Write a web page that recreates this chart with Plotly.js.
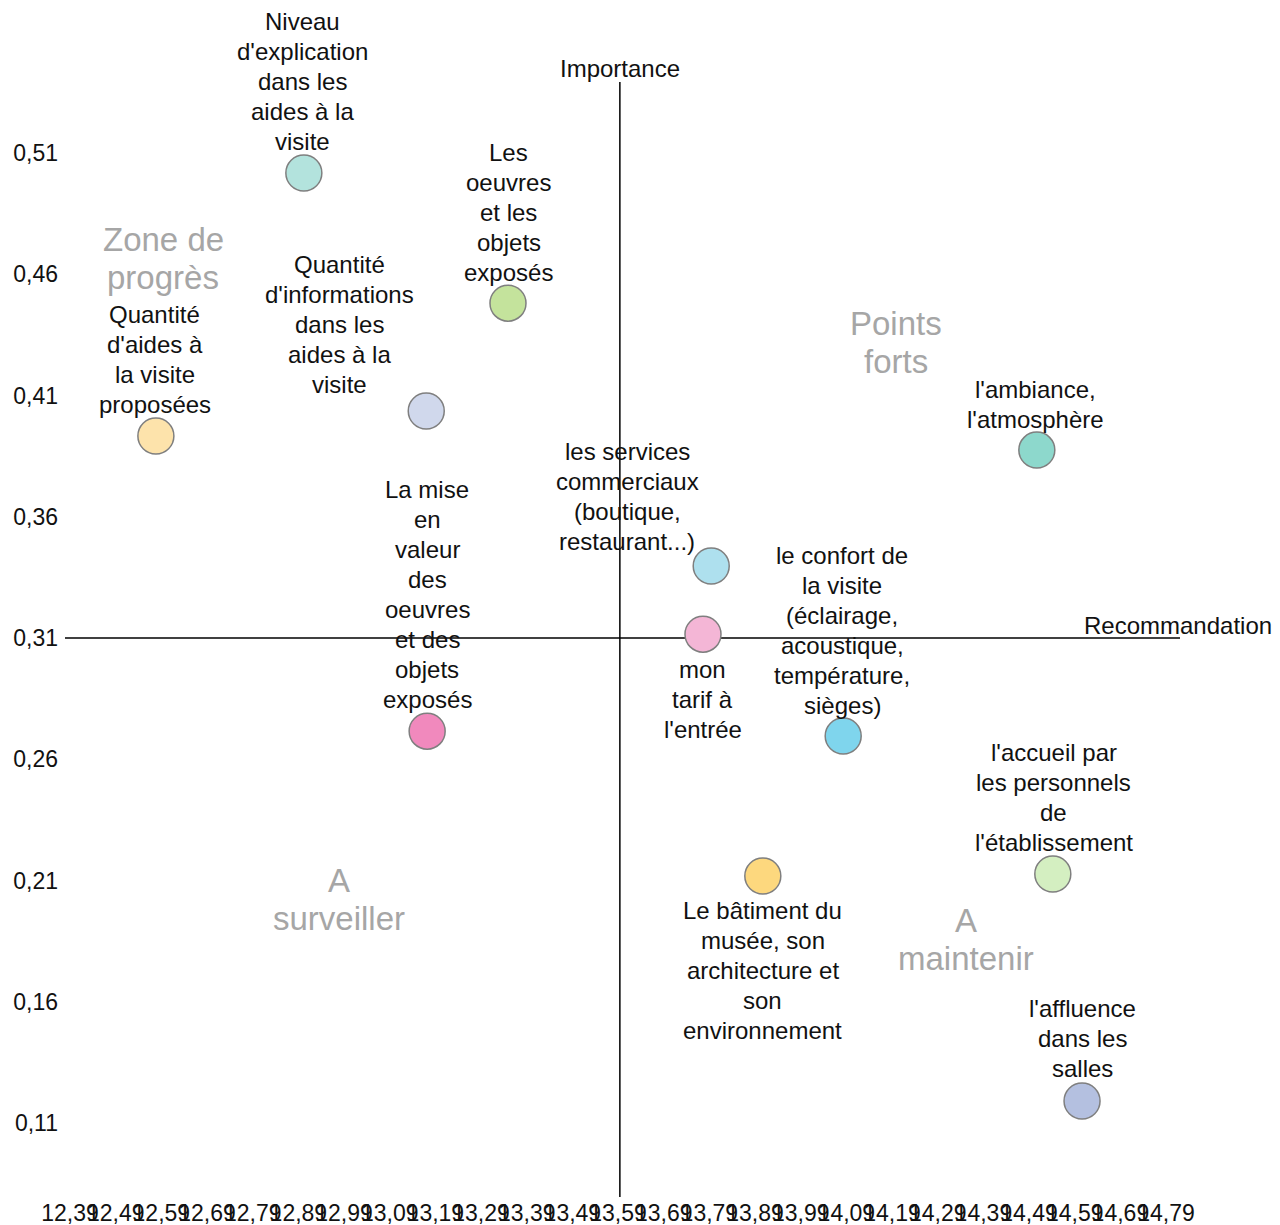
<!DOCTYPE html>
<html>
<head>
<meta charset="utf-8">
<script src="https://cdn.plot.ly/plotly-3.0.1.min.js"></script>
<style>
  html, body { margin: 0; padding: 0; background: #fff; }
  #chart { width: 1280px; height: 1225px; }
</style>
</head>
<body>
<div id="chart"></div>
<script>
// ---- DATA ----
const categories = [
  "Niveau<br>d'explication<br>dans les<br>aides à la<br>visite",
  "Les<br>oeuvres<br>et les<br>objets<br>exposés",
  "Quantité<br>d'informations<br>dans les<br>aides à la<br>visite",
  "Quantité<br>d'aides à<br>la visite<br>proposées",
  "les services<br>commerciaux<br>(boutique,<br>restaurant...)",
  "mon<br>tarif à<br>l'entrée",
  "La mise<br>en<br>valeur<br>des<br>oeuvres<br>et des<br>objets<br>exposés",
  "le confort de<br>la visite<br>(éclairage,<br>acoustique,<br>température,<br>sièges)",
  "l'ambiance,<br>l'atmosphère",
  "l'accueil par<br>les personnels<br>de<br>l'établissement",
  "Le bâtiment du<br>musée, son<br>architecture et<br>son<br>environnement",
  "l'affluence<br>dans les<br>salles"
];
const recommandation = [12.902, 13.349, 13.170, 12.578, 13.794, 13.776, 13.172, 14.083, 14.507, 14.542, 13.907, 14.606];
const importance     = [0.5018, 0.4481, 0.4036, 0.3933, 0.3397, 0.3116, 0.2716, 0.2696, 0.3875, 0.2127, 0.2119, 0.1191];

const crossX = 13.594;  // moyenne recommandation
const crossY = 0.31;    // moyenne importance

const xTickValues = [12.39, 12.49, 12.59, 12.69, 12.79, 12.89, 12.99, 13.09, 13.19, 13.29, 13.39, 13.49, 13.59,
                     13.69, 13.79, 13.89, 13.99, 14.09, 14.19, 14.29, 14.39, 14.49, 14.59, 14.69, 14.79];
const xTickLabels = ["12,39", "12,49", "12,59", "12,69", "12,79", "12,89", "12,99", "13,09", "13,19", "13,29", "13,39", "13,49", "13,59",
                     "13,69", "13,79", "13,89", "13,99", "14,09", "14,19", "14,29", "14,39", "14,49", "14,59", "14,69", "14,79"];
const yTickValues = [0.11, 0.16, 0.21, 0.26, 0.31, 0.36, 0.41, 0.46, 0.51];
const yTickLabels = ["0,11", "0,16", "0,21", "0,26", "0,31", "0,36", "0,41", "0,46", "0,51"];

const quadrantNames = ["Zone de<br>progrès", "Points<br>forts", "A<br>surveiller", "A<br>maintenir"];
const xAxisName = "Recommandation";
const yAxisName = "Importance";

// ---- STYLE ----
const bubbleColors = ["#b3e3dd", "#c4e39c", "#d0d8ec", "#fde3ab", "#aee0ee", "#f4b6d6",
                      "#f189bd", "#7fd5ed", "#8dd8cc", "#d4efc1", "#fdd87e", "#b4c0e0"];
// label placement: mode (above/below), horizontal shift px, base vertical gap px
const labelPlacement = [
  {mode: "above", dx: -1, gap: 31},
  {mode: "above", dx: 1, gap: 31},
  {mode: "above", dx: -87, gap: 27},
  {mode: "above", dx: -1, gap: 32},
  {mode: "above", dx: -84, gap: 25},
  {mode: "below", dx: 0, gap: 35},
  {mode: "above", dx: 0, gap: 32},
  {mode: "above", dx: -1, gap: 31},
  {mode: "above", dx: -1, gap: 31},
  {mode: "above", dx: 1, gap: 31},
  {mode: "below", dx: 0, gap: 35},
  {mode: "above", dx: 0, gap: 32}
];
const quadrantPlacement = [
  {x: 0.0879, y: 0.8583},
  {x: 0.7453, y: 0.7830},
  {x: 0.2457, y: 0.2843},
  {x: 0.8081, y: 0.2484}
];
const FONT = "'Liberation Sans', Arial, sans-serif";
const LINE_H = 30;
const LABEL_SIZE = 24;

const annotations = [];
categories.forEach((txt, i) => {
  const lines = txt.split("<br>");
  const n = lines.length;
  const p = labelPlacement[i];
  lines.forEach((ln, j) => {
    const ys = p.mode === "above" ? (p.gap + (n - 1 - j) * LINE_H) : -(p.gap + j * LINE_H);
    annotations.push({
      x: recommandation[i], y: importance[i], xref: "x", yref: "y",
      text: ln, showarrow: false, xanchor: "center", yanchor: "middle",
      xshift: p.dx, yshift: ys,
      font: {family: FONT, size: LABEL_SIZE, color: "#111"}
    });
  });
});
quadrantNames.forEach((txt, i) => {
  const lines = txt.split("<br>");
  lines.forEach((ln, j) => {
    annotations.push({
      x: quadrantPlacement[i].x, y: quadrantPlacement[i].y, xref: "paper", yref: "paper",
      text: ln, showarrow: false, xanchor: "center", yanchor: "middle",
      yshift: -38 * j,
      font: {family: FONT, size: 33, color: "#a6a6a6"}
    });
  });
});
annotations.push({
  x: crossX, y: 1, xref: "x", yref: "paper", text: yAxisName, showarrow: false,
  xanchor: "center", yanchor: "middle", yshift: 14,
  font: {family: FONT, size: LABEL_SIZE, color: "#111"}
});
annotations.push({
  x: 0.912, y: crossY, xref: "paper", yref: "y", text: xAxisName, showarrow: false,
  xanchor: "left", yanchor: "middle", yshift: 13,
  font: {family: FONT, size: LABEL_SIZE, color: "#111"}
});

const trace = {
  type: "scatter", mode: "markers",
  x: recommandation, y: importance,
  text: categories.map(c => c.replace(/<br>/g, " ")),
  hoverinfo: "text",
  marker: {size: 36, color: bubbleColors, line: {color: "#7f7f7f", width: 1.5}, opacity: 1},
  cliponaxis: false
};

const layout = {
  width: 1280, height: 1225,
  margin: {l: 65, r: 100, t: 82, b: 28, pad: 0},
  paper_bgcolor: "#fff", plot_bgcolor: "#fff",
  showlegend: false,
  font: {family: FONT, size: 23, color: "#111"},
  xaxis: {
    range: [12.379, 14.8205], autorange: false,
    tickmode: "array", tickvals: xTickValues, ticktext: xTickLabels,
    showgrid: false, zeroline: false, showline: false, ticks: "",
    tickfont: {family: FONT, size: 23, color: "#111"}, tickangle: 0
  },
  yaxis: {
    range: [0.0795, 0.5393], autorange: false,
    tickmode: "array", tickvals: yTickValues, ticktext: yTickLabels,
    showgrid: false, zeroline: false, showline: false, ticks: "",
    ticklabelstandoff: 6,
    tickfont: {family: FONT, size: 23, color: "#111"}
  },
  shapes: [
    {type: "line", xref: "x", yref: "paper", x0: crossX, x1: crossX, y0: 0, y1: 1,
     line: {color: "#000", width: 1.5}, layer: "below"},
    {type: "line", xref: "paper", yref: "y", x0: 0, x1: 1, y0: crossY, y1: crossY,
     line: {color: "#000", width: 1.5}, layer: "below"}
  ],
  annotations: annotations
};

Plotly.newPlot("chart", [trace], layout, {displayModeBar: false, responsive: false});
</script>
</body>
</html>
